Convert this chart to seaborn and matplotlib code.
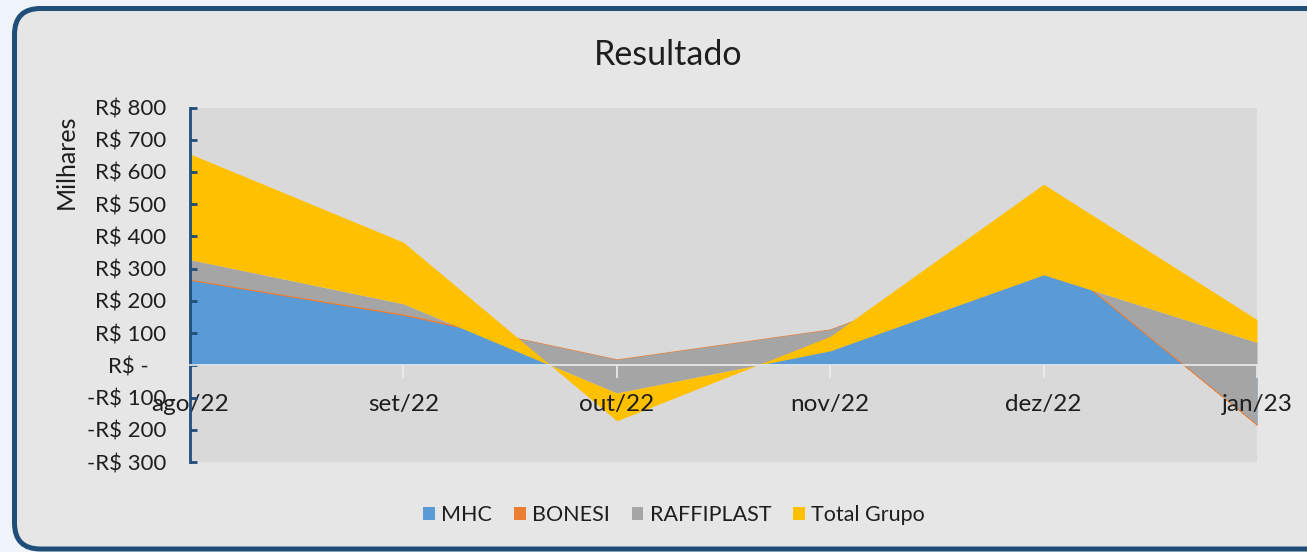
import matplotlib
matplotlib.use('Agg')
import matplotlib.pyplot as plt
import seaborn as sns
import numpy as np
import pandas as pd
from matplotlib.patches import FancyBboxPatch, Patch
from matplotlib.ticker import FuncFormatter, MultipleLocator

## data (R$ milhares)
meses = ['ago/22', 'set/22', 'out/22', 'nov/22', 'dez/22', 'jan/23']
mhc = [266, 157, 15, 108, 357, -184]
bonesi = [1, 2, 3, 3, 1, 1]
raffiplast = [61, 32, -104, -66, -77, 254]
total_grupo = [328, 191, -86, 45, 281, 71]

series = ['MHC', 'BONESI', 'RAFFIPLAST', 'Total Grupo']
cores = ['#5B9BD5', '#ED7D31', '#A5A5A5', '#FFC000']

df = pd.DataFrame({'MHC': mhc, 'BONESI': bonesi, 'RAFFIPLAST': raffiplast,
                   'Total Grupo': total_grupo}, index=meses)

sns.set_theme(style='white')
plt.rcParams['font.family'] = ['Lato', 'DejaVu Sans']
txt = '#1E1E1E'

fig = plt.figure(figsize=(13.07, 5.52), dpi=100, facecolor='#EFF3FA')

## rounded frame around the chart (pixel coords)
frame = FancyBboxPatch((14.5, 3), 1400, 540.5, boxstyle='round,pad=0,rounding_size=26',
                       transform=None, facecolor='#E6E6E6', edgecolor='#1F4E79',
                       linewidth=3.6, zorder=-5)
fig.patches.append(frame)

ax = fig.add_axes([190 / 1307, 1 - 462 / 552, (1257 - 190) / 1307, (462 - 107.5) / 552])
ax.set_facecolor('#D9D9D9')
ax.set_zorder(2)
ax.set_axisbelow(False)

## stacked areas, Excel style (each band between previous and current cumulative)
x = np.arange(len(meses))
cum = df.cumsum(axis=1)
base = np.zeros(len(meses))
for i, (s, c) in enumerate(zip(series, cores)):
    top = cum[s].values
    lw = 0.9 if s == 'BONESI' else 0
    ax.fill_between(x, base, top, color=c, edgecolor=c, linewidth=lw, zorder=1 + i * 0.1)
    base = top

ax.set_xlim(0, len(meses) - 1)
ax.set_ylim(-300, 800)
ax.yaxis.set_major_locator(MultipleLocator(100))

def fmt_real(v, pos):
    v = int(round(v))
    if v == 0:
        return 'R$ -   '
    if v < 0:
        return f'-R$ {abs(v)}'
    return f'R$ {v}'

ax.yaxis.set_major_formatter(FuncFormatter(fmt_real))
ax.set_xticks(x)
ax.set_xticklabels(meses)

for sp in ['top', 'right']:
    ax.spines[sp].set_visible(False)
ax.spines['left'].set_color('#1F4E79')
ax.spines['left'].set_linewidth(2)
ax.spines['bottom'].set_position(('data', 0))
ax.spines['bottom'].set_color('#EDEDED')
ax.spines['bottom'].set_linewidth(1.2)
ax.spines['left'].set_zorder(3)
ax.spines['bottom'].set_zorder(3)

ax.tick_params(axis='y', direction='in', length=5, width=2, color='#1F4E79',
               labelsize=16, labelcolor=txt, pad=17, left=True)
ax.tick_params(axis='x', direction='out', length=9, width=1.2, color='#EDEDED',
               labelsize=17.5, labelcolor=txt, pad=12, bottom=True)
ax.grid(False)

fig.text(668 / 1307, 1 - 55 / 552, 'Resultado', fontsize=24.5, color=txt,
         ha='center', va='center')
fig.text(66 / 1307, 1 - 162 / 552, 'Milhares', fontsize=18, color=txt,
         rotation=90, ha='center', va='center')

handles = [Patch(facecolor=c, edgecolor='none', label=s) for s, c in zip(series, cores)]
fig.legend(handles=handles, loc='center', bbox_to_anchor=(674 / 1307, 1 - 515 / 552),
           ncol=4, frameon=False, fontsize=15.5, handlelength=0.55, handleheight=0.55,
           handletextpad=0.3, columnspacing=1.0, labelcolor=txt)

fig.savefig('out.png', dpi=100, facecolor=fig.get_facecolor())
